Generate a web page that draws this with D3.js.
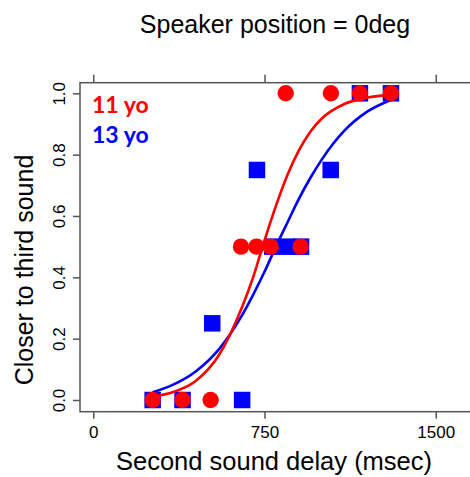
<!DOCTYPE html>
<html><head><meta charset="utf-8">
<script src="https://cdn.jsdelivr.net/npm/d3@7"></script>
<style>html,body{margin:0;padding:0;background:#fff;overflow:hidden}</style>
</head><body>
<script>
// ---- data ----
const title = "Speaker position = 0deg";
const xLabel = "Second sound delay (msec)";
const yLabel = "Closer to third sound";
const xTicks = [0, 750, 1500];
const yTicks = [0, 0.2, 0.4, 0.6, 0.8, 1.0];
const seriesNames = ["11 yo", "13 yo"];

// 11 yo observations (red circles)
const red11X = [260, 391, 514, 647, 715, 777, 908, 843, 1041, 1168, 1304];
const red11Y = [0, 0, 0, 0.5, 0.5, 0.5, 0.5, 1, 1, 1, 1];
// 13 yo observations (blue squares)
const blue13X = [260, 391, 652, 521, 717, 1040, 784, 847, 910, 1168, 1304];
const blue13Y = [0, 0, 0, 0.25, 0.75, 0.75, 0.5, 0.5, 0.5, 1, 1];

// fitted curves
const curveX = [260, 350, 450, 550, 650, 700, 750, 800, 850, 900, 950, 1000, 1100, 1200, 1304];
const red11Fit = [0.011, 0.026, 0.063, 0.146, 0.30, 0.40, 0.52, 0.633, 0.733, 0.813, 0.874, 0.917, 0.965, 0.986, 0.995];
const blue13Fit = [0.025, 0.05, 0.094, 0.165, 0.274, 0.343, 0.418, 0.50, 0.578, 0.655, 0.723, 0.783, 0.878, 0.94, 0.978];

// ---- drawing ----
const W = 470, H = 477;
const svg = d3.select("body").append("svg").attr("width", W).attr("height", H)
  .style("font-family", "Liberation Sans, Arial, sans-serif");

const box = {left: 80, right: 482, top: 82.7, bottom: 411.7};
const x = d3.scaleLinear().domain([0, 1500]).range([93.3, 435.7]);
const y = d3.scaleLinear().domain([0, 1]).range([400, 93.3]);
const red = "#ff0000", blue = "#0000ff", axisCol = "#555";

// frame
svg.append("rect").attr("x", box.left).attr("y", box.top)
  .attr("width", box.right - box.left).attr("height", box.bottom - box.top)
  .attr("fill", "none").attr("stroke", axisCol).attr("stroke-width", 1.5);

// axes
const gB = svg.append("g").attr("transform", `translate(0,${box.bottom})`)
  .call(d3.axisBottom(x).tickValues(xTicks).tickSize(7).tickPadding(7).tickFormat(d3.format("d")));
const gT = svg.append("g").attr("transform", `translate(0,${box.top})`)
  .call(d3.axisTop(x).tickValues(xTicks).tickSize(8).tickFormat(""));
const gL = svg.append("g").attr("transform", `translate(${box.left},0)`)
  .call(d3.axisLeft(y).tickValues(yTicks).tickSize(7).tickFormat(d3.format(".1f")));
[gB, gT, gL].forEach(g => {
  g.select(".domain").remove();
  g.selectAll(".tick line").attr("stroke", axisCol).attr("stroke-width", 1.5);
  g.selectAll(".tick text").attr("fill", "#000").style("font-size", "17px")
    .style("font-family", "Liberation Sans, Arial, sans-serif");
});
gL.selectAll(".tick text")
  .attr("x", null).attr("dy", null)
  .attr("text-anchor", "middle")
  .attr("transform", "translate(-15,0) rotate(-90)");

// points: blue squares
const sq = 16.5;
svg.append("g").selectAll("rect").data(d3.range(blue13X.length)).join("rect")
  .attr("x", i => x(blue13X[i]) - sq / 2).attr("y", i => y(blue13Y[i]) - sq / 2)
  .attr("width", sq).attr("height", sq).attr("fill", blue);

// curves
const line = d3.line().curve(d3.curveMonotoneX);
svg.append("path").attr("d", line(curveX.map((v, i) => [x(v), y(blue13Fit[i])])))
  .attr("fill", "none").attr("stroke", blue).attr("stroke-width", 2.6);
svg.append("path").attr("d", line(curveX.map((v, i) => [x(v), y(red11Fit[i])])))
  .attr("fill", "none").attr("stroke", red).attr("stroke-width", 2.6);

// red circles
svg.append("g").selectAll("circle").data(d3.range(red11X.length)).join("circle")
  .attr("cx", i => x(red11X[i])).attr("cy", i => y(red11Y[i])).attr("r", 8.2).attr("fill", red);

// legend
svg.append("text").attr("x", 92).attr("y", 113).text(seriesNames[0])
  .attr("fill", red).style("font-family", "Lato, sans-serif").style("font-weight", "bold").style("font-size", "23px");
svg.append("text").attr("x", 92).attr("y", 143).text(seriesNames[1])
  .attr("fill", blue).style("font-family", "Lato, sans-serif").style("font-weight", "bold").style("font-size", "23px");

// titles
svg.append("text").attr("x", 275).attr("y", 33).attr("text-anchor", "middle")
  .style("font-size", "25px").attr("fill", "#000").text(title);
svg.append("text").attr("x", 274).attr("y", 470).attr("text-anchor", "middle")
  .style("font-size", "25.5px").attr("fill", "#000").text(xLabel);
svg.append("text").attr("transform", "translate(33,270) rotate(-90)").attr("text-anchor", "middle")
  .style("font-size", "25px").attr("fill", "#000").text(yLabel);
</script>
</body></html>
